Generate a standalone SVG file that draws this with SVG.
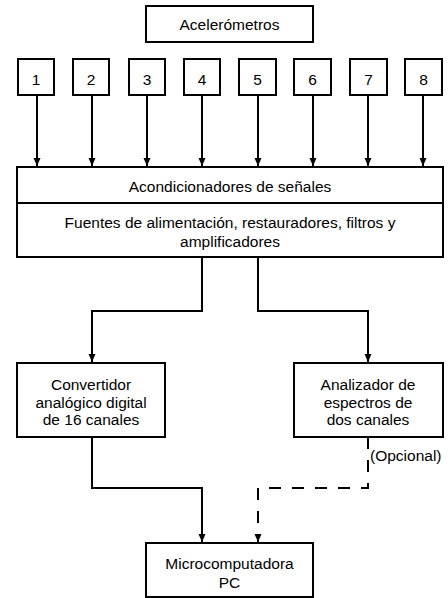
<svg xmlns="http://www.w3.org/2000/svg" width="448" height="598" viewBox="0 0 448 598">
<style>
.box{fill:#fff;stroke:#000;stroke-width:2}
.t{font-family:"Liberation Sans",Arial,sans-serif;font-size:15.5px;fill:#000;text-anchor:middle}
.c{fill:none;stroke:#000;stroke-width:2}
.d{stroke-dasharray:12 11}
</style>
<defs>
<marker id="ah" viewBox="0 0 8 8" refX="8" refY="4" markerWidth="8" markerHeight="8" markerUnits="userSpaceOnUse" orient="auto">
<path d="M0,0.5 L8,4 L0,7.5 Z" fill="#000"/>
</marker>
</defs>
<rect width="448" height="598" fill="#fff"/>
<g id="acelerometros"><rect class="box" x="146" y="6" width="167" height="36"/><text class="t" x="229.5" y="30">Acelerómetros</text></g>
<g id="n1"><rect class="box" x="18" y="59" width="36" height="36"/><text class="t" x="36" y="85">1</text></g>
<g id="n2"><rect class="box" x="73" y="59" width="36" height="36"/><text class="t" x="91" y="85">2</text></g>
<g id="n3"><rect class="box" x="129" y="59" width="36" height="36"/><text class="t" x="147" y="85">3</text></g>
<g id="n4"><rect class="box" x="184" y="59" width="36" height="36"/><text class="t" x="202" y="85">4</text></g>
<g id="n5"><rect class="box" x="239" y="59" width="37" height="36"/><text class="t" x="257.5" y="85">5</text></g>
<g id="n6"><rect class="box" x="294" y="59" width="37" height="36"/><text class="t" x="312.5" y="85">6</text></g>
<g id="n7"><rect class="box" x="350" y="59" width="37" height="36"/><text class="t" x="368.5" y="85">7</text></g>
<g id="n8"><rect class="box" x="405" y="59" width="37" height="36"/><text class="t" x="423.5" y="85">8</text></g>
<g id="acondicionadores">
<rect class="box" x="17" y="167" width="426" height="90"/>
<line class="c" x1="17" y1="203" x2="443" y2="203"/>
<text class="t" x="230" y="192">Acondicionadores de señales</text>
<text class="t" x="230" y="228">Fuentes de alimentación, restauradores, filtros y</text>
<text class="t" x="230" y="247">amplificadores</text>
</g>
<g id="convertidor"><rect class="box" x="17" y="363" width="148" height="74"/>
<text class="t" x="91" y="390">Convertidor</text><text class="t" x="91" y="408">analógico digital</text><text class="t" x="91" y="425">de 16 canales</text></g>
<g id="analizador"><rect class="box" x="294" y="363" width="149" height="74"/>
<text class="t" x="368" y="390">Analizador de</text><text class="t" x="368" y="408">espectros de</text><text class="t" x="368" y="425">dos canales</text></g>
<g id="micro"><rect class="box" x="146" y="543" width="167" height="54"/>
<text class="t" x="229.5" y="569">Microcomputadora</text><text class="t" x="229.5" y="588">PC</text></g>
<g id="connectors">
<line class="c" x1="37" y1="95" x2="37" y2="166" marker-end="url(#ah)"/>
<line class="c" x1="92" y1="95" x2="92" y2="166" marker-end="url(#ah)"/>
<line class="c" x1="147" y1="95" x2="147" y2="166" marker-end="url(#ah)"/>
<line class="c" x1="202" y1="95" x2="202" y2="166" marker-end="url(#ah)"/>
<line class="c" x1="258" y1="95" x2="258" y2="166" marker-end="url(#ah)"/>
<line class="c" x1="313" y1="95" x2="313" y2="166" marker-end="url(#ah)"/>
<line class="c" x1="368" y1="95" x2="368" y2="166" marker-end="url(#ah)"/>
<line class="c" x1="423" y1="95" x2="423" y2="166" marker-end="url(#ah)"/>
<path class="c" d="M202,257 V311 H92 V362" marker-end="url(#ah)"/>
<path class="c" d="M258,257 V311 H368 V362" marker-end="url(#ah)"/>
<path class="c" d="M92,437 V488 H202 V542" marker-end="url(#ah)"/>
<path class="c d" d="M368,437 V488 H258 V542" marker-end="url(#ah)"/>
<text class="t" x="370" y="461" style="text-anchor:start">(Opcional)</text>
</g>
</svg>
